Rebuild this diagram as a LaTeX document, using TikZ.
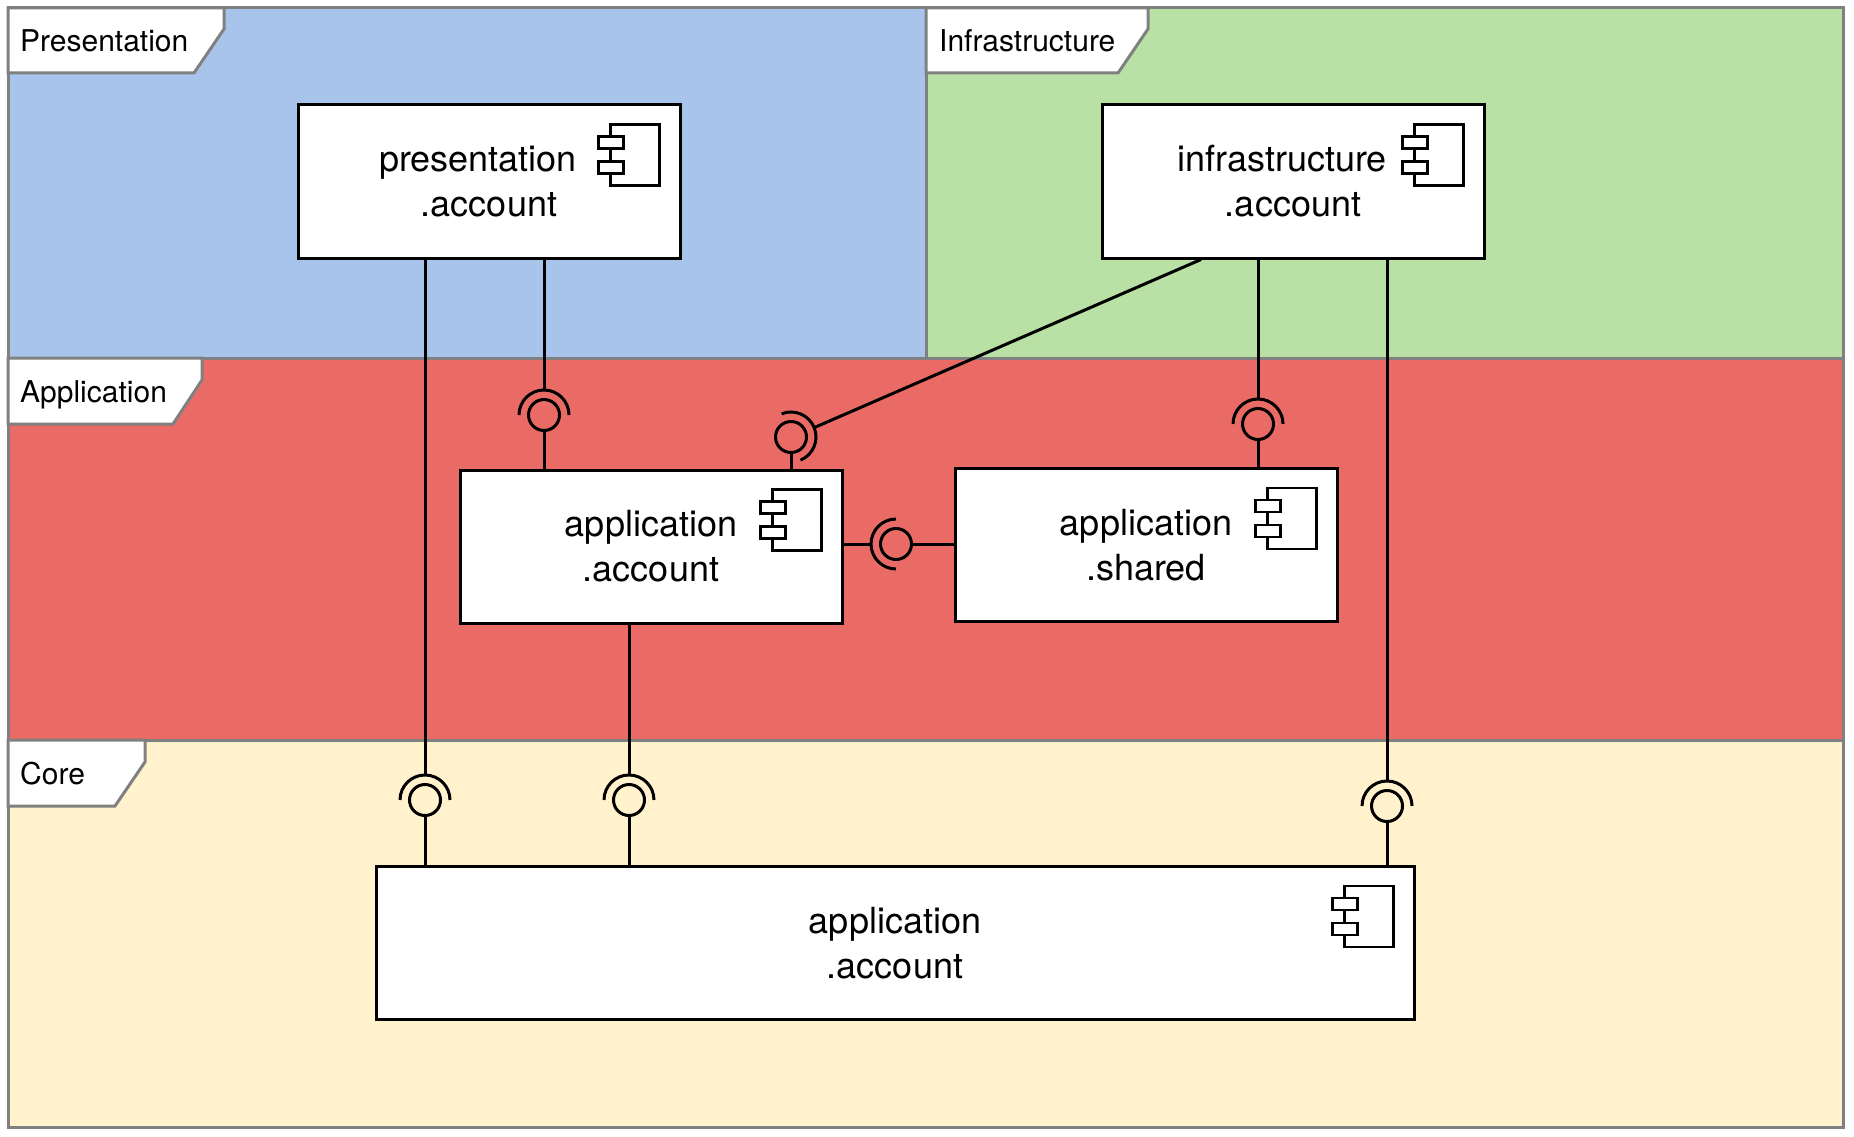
\documentclass[tikz,border=0pt]{standalone}
\usepackage{fontspec}
\setmainfont{TeX Gyre Heros}
\usetikzlibrary{positioning}
\definecolor{presblue}{HTML}{A9C4EB}
\definecolor{infragreen}{HTML}{B9E0A5}
\definecolor{appred}{HTML}{EA6B66}
\definecolor{coreyellow}{HTML}{FFF2CC}
\definecolor{framegray}{HTML}{808080}
\newcommand{\compicon}[1]{
\draw[iconline] ([shift={(-71,21)}]#1.north east) rectangle ([shift={(-22,82)}]#1.north east);
\draw[iconline,fill=white] ([shift={(-83,33)}]#1.north east) rectangle ([shift={(-58,45)}]#1.north east);
\draw[iconline,fill=white] ([shift={(-83,58)}]#1.north east) rectangle ([shift={(-58,70)}]#1.north east);
}
\newcommand{\socket}[2]{
\coordinate (#1top) at ([shift={(#2:25pt)}]#1.center);
\draw[wire] ([shift={(#2+90:25pt)}]#1.center) arc[start angle=#2+90, end angle=#2-90, radius=25pt];
}

\begin{document}
\begin{tikzpicture}[x=1pt,y=-1pt,line join=miter
,region/.style={draw=framegray,line width=3pt}
,tabshape/.style={draw=framegray,line width=3pt,fill=white}
,tablabel/.style={anchor=base west,inner sep=0pt,font=\fontsize{30}{36}\selectfont}
,comp/.style={rectangle,draw=black,line width=3pt,fill=white,minimum width=382pt,minimum height=153pt,inner sep=0pt,align=center,font=\fontsize{36}{45}\selectfont}
,ball/.style={circle,draw=black,line width=3pt,minimum size=31pt,inner sep=0pt}
,wire/.style={draw=black,line width=3pt}
,iconline/.style={draw=black,line width=2.8pt}]
\useasboundingbox (0,0) rectangle (1854,1137);
\fill[white] (0,0) rectangle (1854,1137);
% layers
\draw[region,fill=presblue] (8,8) rectangle (926,358);
\draw[region,fill=infragreen] (926,8) rectangle (1843,358);
\draw[region,fill=appred] (8,358) rectangle (1843,740);
\draw[region,fill=coreyellow] (8,740) rectangle (1843,1127);
\draw[tabshape] (8,8) -- (224,8) -- (224,29) -- (194,73) -- (8,73) -- cycle;
\draw[tabshape] (926,8) -- (1148,8) -- (1148,29) -- (1118,73) -- (926,73) -- cycle;
\draw[tabshape] (8,358) -- (202,358) -- (202,380) -- (173,424) -- (8,424) -- cycle;
\draw[tabshape] (8,740) -- (145,740) -- (145,762) -- (115,806) -- (8,806) -- cycle;
\node[tablabel] (presLabel) at (20,52) {Presentation};
\node[tablabel] (infraLabel) at (939,52) {Infrastructure};
\node[tablabel] (appLabel) at (20,402) {Application};
\node[tablabel] (coreLabel) at (20,784) {Core};
% components
\node[comp] (presAccount) at (489,181.5) {presentation\kern22pt\\.account};
\node[comp] (infraAccount) at (1293,181.5) {infrastructure\kern22pt\\.account};
\node[comp] (appAccount) at (651,546.5) {application\\.account};
\node[comp] (appShared) at (1146,545) {application\\.shared};
\node[comp,minimum width=1038pt] (coreAccount) at (895,943) {application\\.account};
% interfaces
\node[ball] (ballPres) at (544,415) {};
\node[ball] (ballInfra) at (791,437) {};
\node[ball] (ballShared) at (1258,424) {};
\node[ball] (ballApp) at (896,544) {};
\node[ball] (ballCoreA) at (425,800) {};
\node[ball] (ballCoreB) at (629,800) {};
\node[ball] (ballCoreC) at (1387,806) {};
\socket{ballPres}{90}
\socket{ballInfra}{22}
\socket{ballShared}{90}
\socket{ballApp}{180}
\socket{ballCoreA}{90}
\socket{ballCoreB}{90}
\socket{ballCoreC}{90}
% connectors
\draw[wire] (presAccount.south -| ballCoreA) -- (ballCoreAtop);
\draw[wire] (presAccount.south -| ballPres) -- (ballPrestop);
\draw[wire] ([xshift=-92pt]infraAccount.south) -- (ballInfratop);
\draw[wire] (infraAccount.south -| ballShared) -- (ballSharedtop);
\draw[wire] (infraAccount.south -| ballCoreC) -- (ballCoreCtop);
\draw[wire] (appAccount.south -| ballCoreB) -- (ballCoreBtop);
\draw[wire] (appAccount.east |- ballApp) -- (ballApptop);
\draw[wire] (ballPres) -- (appAccount.north -| ballPres);
\draw[wire] (ballInfra) -- (appAccount.north -| ballInfra);
\draw[wire] (ballShared) -- (appShared.north -| ballShared);
\draw[wire] (ballApp) -- (appShared.west |- ballApp);
\draw[wire] (ballCoreA) -- (coreAccount.north -| ballCoreA);
\draw[wire] (ballCoreB) -- (coreAccount.north -| ballCoreB);
\draw[wire] (ballCoreC) -- (coreAccount.north -| ballCoreC);
\foreach \comp in {presAccount,infraAccount,appAccount,appShared,coreAccount} {\compicon{\comp}}
\end{tikzpicture}
\end{document}
